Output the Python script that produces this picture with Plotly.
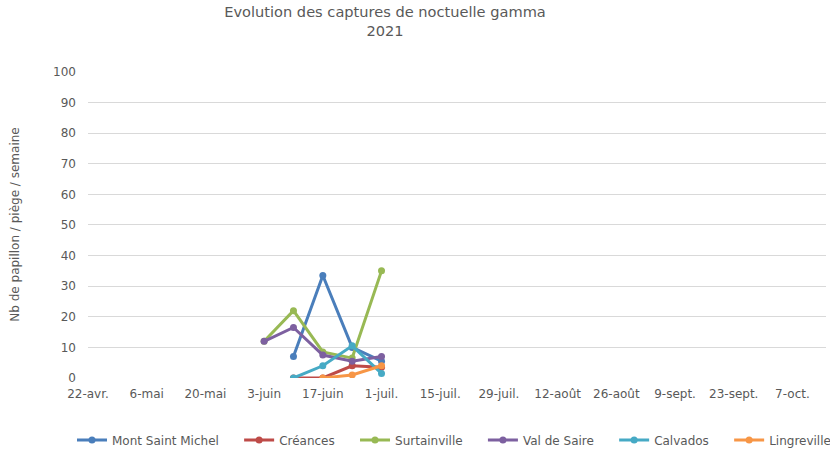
import plotly.graph_objects as go

dates = ["2021-06-03", "2021-06-10", "2021-06-17", "2021-06-24", "2021-07-01"]

series_names = ["Mont Saint Michel", "Créances", "Surtainville", "Val de Saire", "Calvados", "Lingreville"]
mont_saint_michel = [None, 7, 33.5, 10, 5.5]
creances = [None, 0, 0, 4, 3.5]
surtainville = [12, 22, 8.5, 6.5, 35]
val_de_saire = [12, 16.5, 7.5, 5.5, 7]
calvados = [None, 0, 4, 10.5, 1.5]
lingreville = [None, None, 0, 1, 4]

colors = ["#4a7ebb", "#be4b48", "#98b954", "#7d60a0", "#46aac5", "#f79646"]

tick_dates = ["2021-04-22", "2021-05-06", "2021-05-20", "2021-06-03", "2021-06-17", "2021-07-01",
              "2021-07-15", "2021-07-29", "2021-08-12", "2021-08-26", "2021-09-09", "2021-09-23", "2021-10-07"]
tick_labels = ["22-avr.", "6-mai", "20-mai", "3-juin", "17-juin", "1-juil.", "15-juil.", "29-juil.",
               "12-août", "26-août", "9-sept.", "23-sept.", "7-oct."]
y_ticks = [0, 10, 20, 30, 40, 50, 60, 70, 80, 90, 100]

PAD = "\u00a0" * 4  # spacing between legend entries

fig = go.Figure()
all_series = [mont_saint_michel, creances, surtainville, val_de_saire, calvados, lingreville]
for i, (name, vals, col) in enumerate(zip(series_names, all_series, colors)):
    label = name + (PAD if i < len(series_names) - 1 else "")
    fig.add_trace(go.Scatter(x=dates, y=vals, name=label, mode="lines+markers",
                             line=dict(color=col, width=3), marker=dict(color=col, size=7),
                             connectgaps=False))

font_fam = "DejaVu Sans, Verdana, sans-serif"
fig.update_layout(
    width=830, height=450,
    margin=dict(l=88, r=4, t=71, b=72, autoexpand=False),
    paper_bgcolor="white", plot_bgcolor="white",
    title=dict(text="Evolution des captures de noctuelle gamma<br>2021", x=385 / 830, xanchor="center",
               xref="container", yref="container", y=1 - 17 / 450, yanchor="middle",
               font=dict(family=font_fam, size=14.6, color="#595959")),
    font=dict(family=font_fam, size=12, color="#595959"),
    showlegend=True,
    legend=dict(orientation="h", x=(72 - 88) / 738, xanchor="left",
                y=(378 - 440) / 307, yanchor="middle",
                font=dict(size=12, color="#595959")),
    xaxis=dict(type="date", range=["2021-04-22", "2021-10-15"], tickmode="array",
               tickvals=tick_dates, ticktext=tick_labels, showgrid=False, zeroline=False,
               showline=False, ticks="", automargin=False, ticklabelstandoff=7,
               tickfont=dict(size=12, color="#595959")),
    yaxis=dict(range=[0, 100.3], tickmode="array", tickvals=y_ticks, showgrid=True,
               gridcolor="#d9d9d9", gridwidth=1, zeroline=False, ticks="",
               ticklabelstandoff=11, automargin=False,
               tickfont=dict(size=12, color="#595959"),
               title=dict(text="Nb de papillon / piège / semaine", standoff=30,
                          font=dict(size=12, color="#595959"))),
)

fig.write_html("out.html", config={"displayModeBar": False},
               post_script="document.body.style.margin='0';")
